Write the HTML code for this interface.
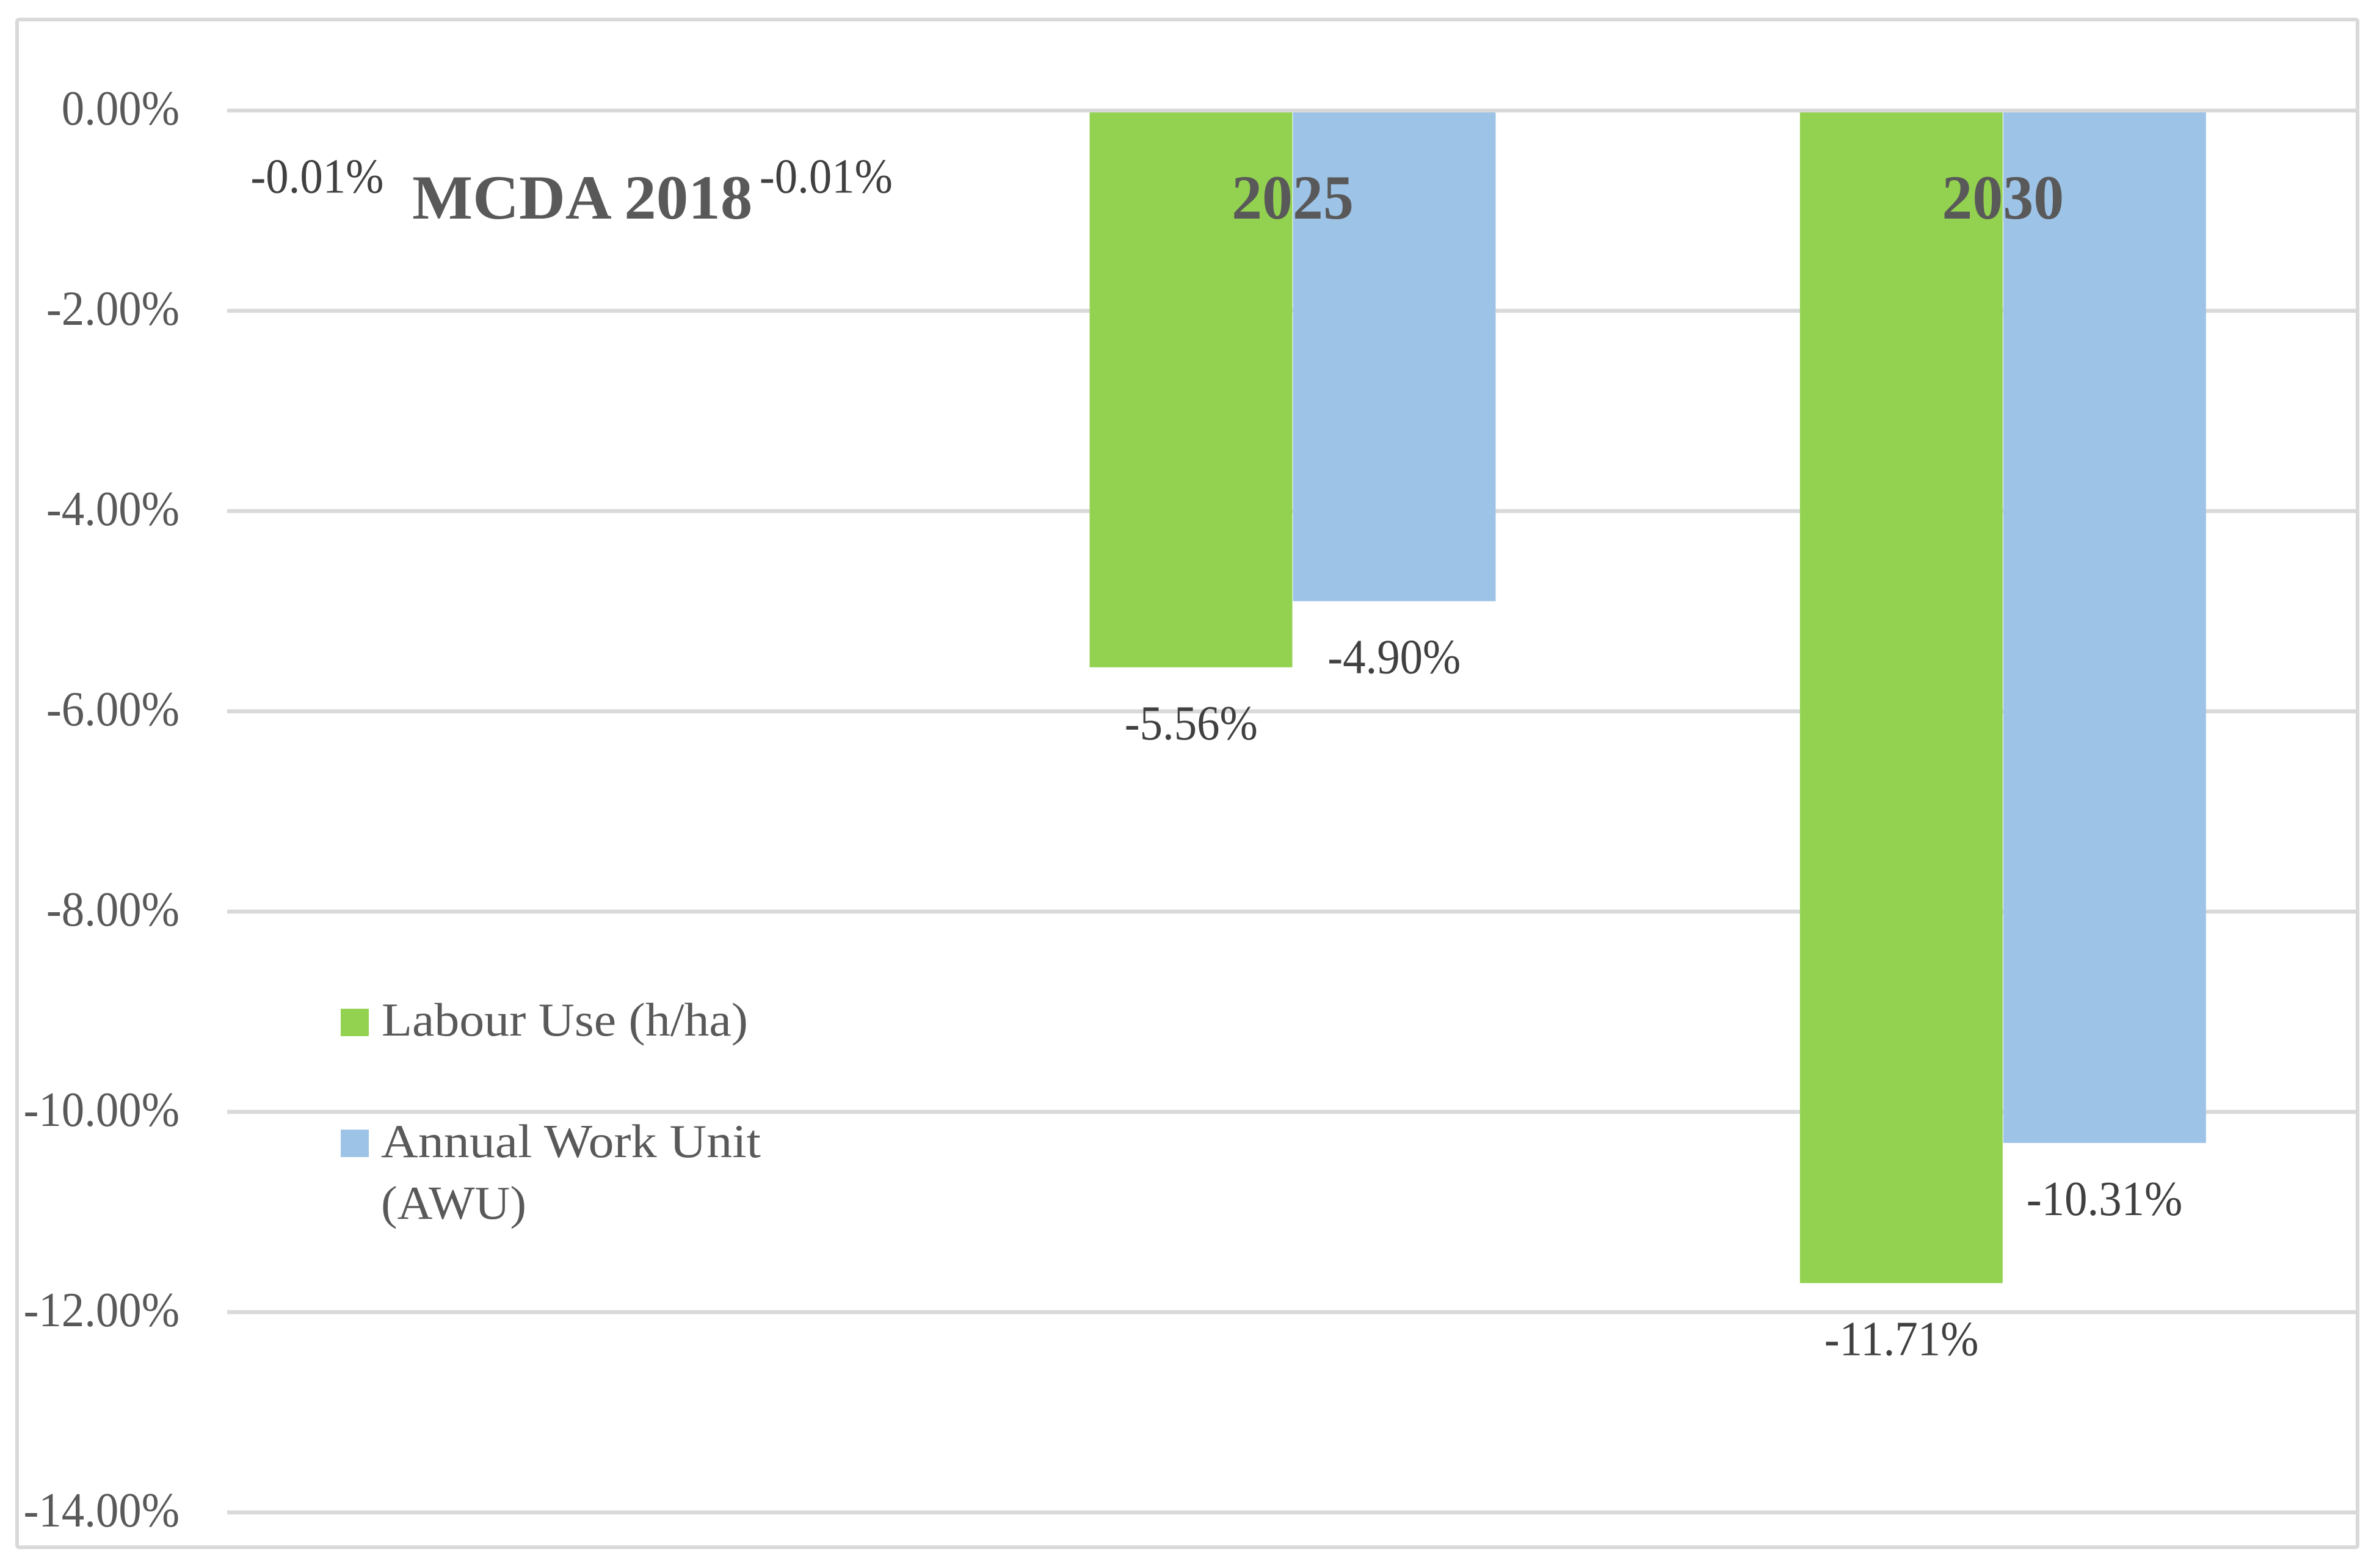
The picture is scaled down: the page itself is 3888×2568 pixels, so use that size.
<!DOCTYPE html>
<html lang="en">
<head>
<meta charset="utf-8">
<title>Labour Use and Annual Work Unit change chart</title>
<style>
html,body{margin:0;padding:0;background:#fff;}
svg{display:block;font-family:"Liberation Serif",serif;}
</style>
</head>
<body>
<svg id="chart" width="3888" height="2568" viewBox="0 0 3888 2568" xmlns="http://www.w3.org/2000/svg">
  <rect x="0" y="0" width="3888" height="2568" fill="#ffffff"/>
  <g id="grid"></g>
  <g id="bars"></g>
  <g id="axis"></g>
  <rect x="28" y="32" width="3833" height="2502" rx="3" fill="none" stroke="#d9d9d9" stroke-width="6"/>
  <g id="cats"></g>
  <g id="vals"></g>
  <g>
    <rect x="558" y="1652" width="46" height="45" fill="#93d250"/>
    <text x="625" y="1696" font-size="77" fill="#595959" textLength="600" lengthAdjust="spacingAndGlyphs">Labour Use (h/ha)</text>
    <rect x="558" y="1850" width="46" height="45" fill="#9dc3e6"/>
    <text x="624" y="1895" font-size="77" fill="#595959" textLength="622" lengthAdjust="spacingAndGlyphs">Annual Work Unit</text>
    <text x="624" y="1996" font-size="77" fill="#595959" textLength="238" lengthAdjust="spacingAndGlyphs">(AWU)</text>
  </g>
</svg>
<script>
const categories = ["MCDA 2018", "2025", "2030"];
const labourUse = [-0.01, -5.56, -11.71];
const annualWorkUnit = [-0.01, -4.90, -10.31];
const labourLabels = ["-0.01%", "-5.56%", "-11.71%"];
const awuLabels = ["-0.01%", "-4.90%", "-10.31%"];
const yTicks = [0, -2, -4, -6, -8, -10, -12, -14];
const yTickLabels = ["0.00%", "-2.00%", "-4.00%", "-6.00%", "-8.00%", "-10.00%", "-12.00%", "-14.00%"];

const NS = "http://www.w3.org/2000/svg";
const plotLeft = 372, plotRight = 3862, zeroY = 181, pxPerUnit = 164;
const barWidth = 332.5, gridWidth = 6.5, glyphSqueeze = 0.935;
const y = v => zeroY - v * pxPerUnit;
const catWidth = () => (plotRight - plotLeft) / categories.length;
const catCenter = i => plotLeft + catWidth() * (i + 0.5);

function line(parent, x1, x2, yy) {
  const el = document.createElementNS(NS, "line");
  el.setAttribute("x1", x1);
  el.setAttribute("x2", x2);
  el.setAttribute("y1", yy);
  el.setAttribute("y2", yy);
  el.setAttribute("stroke", "#d9d9d9");
  el.setAttribute("stroke-width", gridWidth);
  parent.appendChild(el);
  return el;
}
function text(parent, x, yy, str, size, fill, anchor, bold, squeeze) {
  const el = document.createElementNS(NS, "text");
  el.setAttribute("x", x);
  el.setAttribute("y", yy);
  el.setAttribute("font-size", size);
  el.setAttribute("fill", fill);
  el.setAttribute("text-anchor", anchor);
  if (bold) el.setAttribute("font-weight", "bold");
  el.textContent = str;
  parent.appendChild(el);
  el.setAttribute("textLength", (el.getComputedTextLength() * squeeze).toFixed(1));
  el.setAttribute("lengthAdjust", "spacingAndGlyphs");
  return el;
}
function bar(parent, x, value, fill) {
  const el = document.createElementNS(NS, "rect");
  el.setAttribute("x", x);
  el.setAttribute("y", y(0));
  el.setAttribute("width", barWidth - 0.5);
  el.setAttribute("height", Math.abs(y(value) - y(0)));
  el.setAttribute("fill", fill);
  parent.appendChild(el);
  return el;
}

const gridG = document.getElementById("grid");
const axisG = document.getElementById("axis");
const barsG = document.getElementById("bars");
const catsG = document.getElementById("cats");
const valsG = document.getElementById("vals");

yTicks.forEach((t, i) => {
  if (t !== 0) {
    const g = line(gridG, plotLeft, plotRight, y(t));
    
    
  }
  const lbl = text(axisG, 294, y(t) + 23, yTickLabels[i], 80, "#595959", "end", false, glyphSqueeze);
  
  
});

const labelDrop = 118;
// the near-zero first category has its labels dragged sideways, clear of its title
const nearZeroLabelDx = [-268, 233];
const nearZeroLabelDrop = 133;

categories.forEach((c, i) => {
  const cx = catCenter(i);
  const g = bar(barsG, cx - barWidth, labourUse[i], "#93d250");
  
  
  const b = bar(barsG, cx + 0.5, annualWorkUnit[i], "#9dc3e6");
  
  

  const nearZero = Math.abs(labourUse[i]) < 0.5;
  const gx = cx - barWidth / 2 + (nearZero ? nearZeroLabelDx[0] : 0);
  const bx = cx + barWidth / 2 + (nearZero ? nearZeroLabelDx[1] : 0);
  const drop = nearZero ? nearZeroLabelDrop : labelDrop;
  const gl = text(valsG, gx, y(labourUse[i]) + drop, labourLabels[i], 80, "#404040", "middle", false, glyphSqueeze);
  
  
  const bl = text(valsG, bx, y(annualWorkUnit[i]) + drop, awuLabels[i], 80, "#404040", "middle", false, glyphSqueeze);
  
  

  const cl = text(catsG, cx, 358, c, 103, "#595959", "middle", true, i === 0 ? 1.02 : 0.97);
  
  
});

const zeroLine = line(axisG, plotLeft, plotRight, y(0));


</script>
</body>
</html>
